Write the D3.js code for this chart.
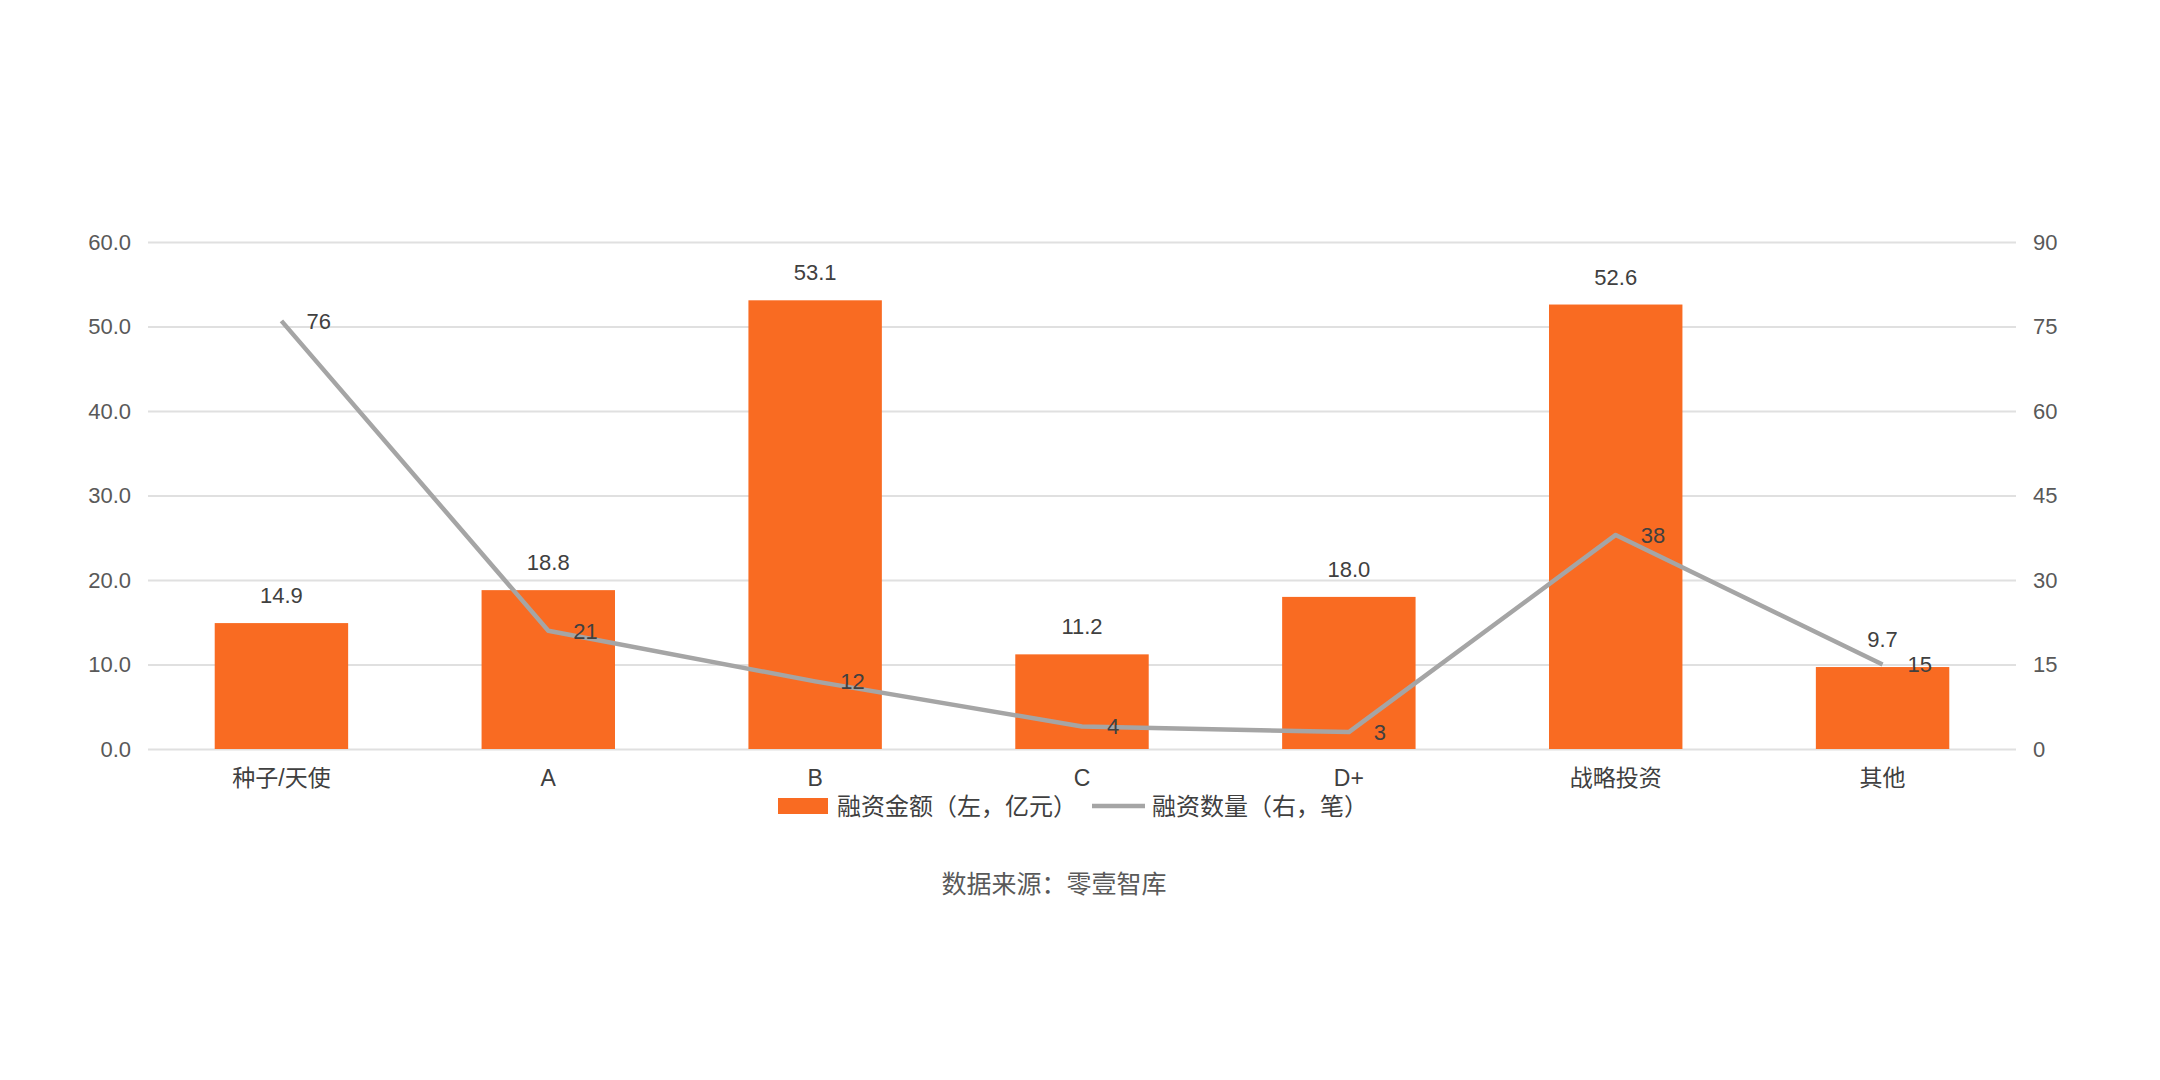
<!DOCTYPE html>
<html>
<head>
<meta charset="utf-8">
<script src="https://cdn.jsdelivr.net/npm/d3@7"></script>
<style>
  html, body { margin: 0; padding: 0; background: #fff; }
  text { font-family: "Liberation Sans", "Noto Sans CJK SC", sans-serif; }
</style>
</head>
<body>
<div id="chart"></div>
<script>
// ── data
const categories = ['种子/天使', 'A', 'B', 'C', 'D+', '战略投资', '其他'];
const amounts    = [14.9, 18.8, 53.1, 11.2, 18.0, 52.6, 9.7];   // 融资金额（左，亿元）
const counts     = [76, 21, 12, 4, 3, 38, 15];                  // 融资数量（右，笔）
const leftTicks  = [0, 10, 20, 30, 40, 50, 60];
const rightTicks = [0, 15, 30, 45, 60, 75, 90];
const seriesNames = ['融资金额（左，亿元）', '融资数量（右，笔）'];
const sourceText = '数据来源：零壹智库';

const W = 2160, H = 1080;
const margin = { top: 242, right: 144, bottom: 331, left: 148 };
const width  = W - margin.left - margin.right;
const height = H - margin.top - margin.bottom;

const barColor  = '#f96b22';
const lineColor = '#a5a5a5';
const fontStack = '"Liberation Sans", "Noto Sans CJK SC", sans-serif';

const svg = d3.select('#chart')
  .append('svg')
    .attr('width', W)
    .attr('height', H);

const g = svg.append('g')
  .attr('transform', `translate(${margin.left},${margin.top})`);

// scales
const x = d3.scaleBand()
  .domain(categories)
  .range([0, width])
  .paddingInner(0.5)
  .paddingOuter(0.25);

const yL = d3.scaleLinear().domain([0, 60]).range([height, 0]);
const yR = d3.scaleLinear().domain([0, 90]).range([height, 0]);

// left axis + gridlines
g.append('g')
  .attr('class', 'axis axis--left')
  .call(d3.axisLeft(yL).tickValues(leftTicks).tickFormat(d3.format('.1f')).tickSize(-width).tickPadding(17))
  .call(a => a.select('.domain').remove())
  .call(a => a.selectAll('.tick line').attr('stroke', '#e0e0e0').attr('stroke-width', 2))
  .call(a => a.selectAll('.tick text')
    .attr('fill', '#595959').attr('font-size', '22px')
    .style('font-family', fontStack));

// right axis
g.append('g')
  .attr('class', 'axis axis--right')
  .attr('transform', `translate(${width},0)`)
  .call(d3.axisRight(yR).tickValues(rightTicks).tickSize(0).tickPadding(17))
  .call(a => a.select('.domain').remove())
  .call(a => a.selectAll('.tick text')
    .attr('fill', '#595959').attr('font-size', '22px')
    .style('font-family', fontStack));

// category axis
g.append('g')
  .attr('class', 'axis axis--x')
  .attr('transform', `translate(0,${height})`)
  .call(d3.axisBottom(x).tickSize(0).tickPadding(21))
  .call(a => a.select('.domain').remove())
  .call(a => a.selectAll('.tick text')
    .attr('fill', '#404040').attr('font-size', '23px')
    .style('font-family', fontStack));

// bars
g.append('g')
  .selectAll('rect')
  .data(categories)
  .join('rect')
    .attr('x', d => x(d))
    .attr('width', x.bandwidth())
    .attr('y', (d, i) => yL(amounts[i]))
    .attr('height', (d, i) => height - yL(amounts[i]))
    .attr('fill', barColor);

// line (right axis)
const line = d3.line()
  .x((d, i) => x(categories[i]) + x.bandwidth() / 2)
  .y(d => yR(d));

g.append('path')
  .datum(counts)
  .attr('d', line)
  .attr('fill', 'none')
  .attr('stroke', lineColor)
  .attr('stroke-width', 4.5)
  .attr('stroke-linejoin', 'round');

// line labels — to the right of each point
g.append('g')
  .selectAll('text')
  .data(counts)
  .join('text')
    .attr('x', (d, i) => x(categories[i]) + x.bandwidth() / 2 + 25)
    .attr('y', d => yR(d))
    .attr('dy', '0.36em')
    .attr('fill', '#404040')
    .attr('font-size', '22px')
    .text(d => d);

// bar labels
g.append('g')
  .selectAll('text')
  .data(amounts)
  .join('text')
    .attr('x', (d, i) => x(categories[i]) + x.bandwidth() / 2)
    .attr('y', d => yL(d) - 20)
    .attr('text-anchor', 'middle')
    .attr('fill', '#404040')
    .attr('font-size', '22px')
    .text(d => d3.format('.1f')(d));

// legend
const legend = svg.append('g')
  .attr('transform', `translate(778, 806)`);

legend.append('rect')
  .attr('x', 0).attr('y', -8)
  .attr('width', 50).attr('height', 16)
  .attr('fill', barColor);

legend.append('text')
  .attr('x', 59).attr('y', 0).attr('dy', '0.36em')
  .attr('fill', '#404040').attr('font-size', '24px')
  .text(seriesNames[0]);

legend.append('line')
  .attr('x1', 314).attr('x2', 367)
  .attr('y1', 0).attr('y2', 0)
  .attr('stroke', lineColor)
  .attr('stroke-width', 4.5);

legend.append('text')
  .attr('x', 374).attr('y', 0).attr('dy', '0.36em')
  .attr('fill', '#404040').attr('font-size', '24px')
  .text(seriesNames[1]);

// source note
svg.append('text')
  .attr('x', 1054).attr('y', 884).attr('dy', '0.36em')
  .attr('text-anchor', 'middle')
  .attr('fill', '#595959')
  .attr('font-size', '25px')
  .text(sourceText);
</script>
</body>
</html>
